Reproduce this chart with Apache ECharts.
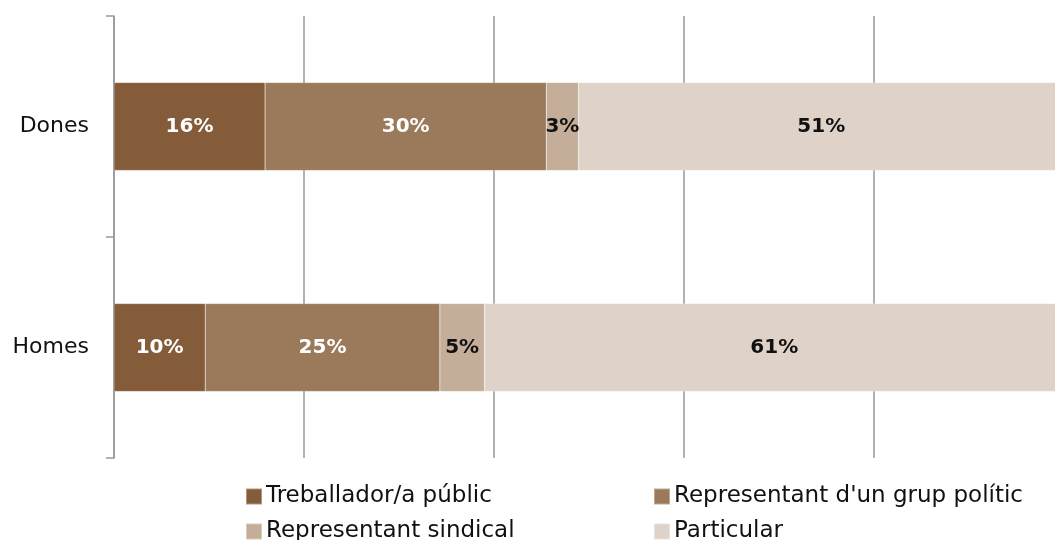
<!DOCTYPE html>
<html>
<head>
<meta charset="utf-8">
<script src="https://cdn.jsdelivr.net/npm/echarts@6/dist/echarts.min.js"></script>
<style>html,body{margin:0;padding:0;background:#fff}#c{width:1055px;height:540px}</style>
</head>
<body>
<div id="c"></div>
<script>
const categories = ['Dones', 'Homes'];
const seriesNames = ['Treballador/a públic', "Representant d'un grup polític", 'Representant sindical', 'Particular'];
const treballador = [15.9, 9.6];
const representantPolitic = [29.6, 24.7];
const representantSindical = [3.4, 4.7];
const particular = [51.1, 61.0];
const colors = ['#845C3A', '#9B7A5B', '#C4AE99', '#DFD3C9'];
const labelColors = ['#ffffff', '#ffffff', '#111111', '#111111'];

const values = [treballador, representantPolitic, representantSindical, particular];

const chart = echarts.init(document.getElementById('c'), null, {renderer: 'canvas'});
const series = seriesNames.map((name, i) => ({
  name: name,
  type: 'bar',
  stack: 'total',
  barWidth: 88,
  data: values[i],
  itemStyle: {color: colors[i], borderColor: 'rgba(255,255,255,0.35)', borderWidth: 0.5},
  label: {
    show: true,
    position: 'inside',
    formatter: p => Math.round(p.value) + '%',
    color: labelColors[i],
    fontFamily: 'DejaVu Sans',
    fontWeight: 'bold',
    fontSize: 20
  },
  emphasis: {disabled: true}
}));

const legendPos = [
  {left: 245, top: 485},
  {left: 653, top: 485},
  {left: 245, top: 520},
  {left: 653, top: 520}
];
const legends = seriesNames.map((n, i) => ({
  data: [n],
  left: legendPos[i].left,
  top: legendPos[i].top,
  icon: 'rect',
  itemWidth: 16,
  itemHeight: 16,
  itemGap: 6,
  padding: 0,
  selectedMode: false,
  textStyle: {fontFamily: 'DejaVu Sans', fontSize: 23, color: '#111111', padding: [0, 0, 0, -1]}
}));

chart.setOption({
  animation: false,
  color: colors,
  grid: {left: 114, width: 950, top: 16, bottom: 82, containLabel: false, outerBoundsMode: 'none'},
  legend: legends,
  xAxis: {
    type: 'value',
    min: 0,
    max: 100,
    interval: 20,
    axisLine: {show: false},
    axisTick: {show: false},
    axisLabel: {show: false},
    splitLine: {show: true, lineStyle: {color: '#999999', width: 1.5}}
  },
  yAxis: {
    type: 'category',
    inverse: true,
    data: categories,
    axisLine: {show: true, lineStyle: {color: '#999999', width: 1.5}},
    axisTick: {show: true, length: 8, lineStyle: {color: '#999999', width: 1.5}},
    axisLabel: {margin: 25, fontFamily: 'DejaVu Sans', fontSize: 22, color: '#111111'}
  },
  series: series
});
</script>
</body>
</html>
